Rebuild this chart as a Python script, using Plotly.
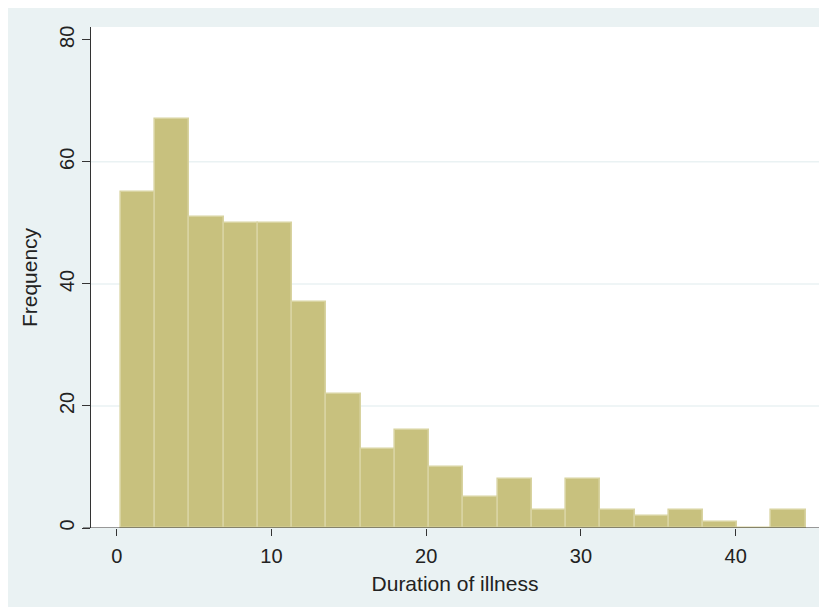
import plotly.graph_objects as go

# ---- data ----
counts = [55, 67, 51, 50, 50, 37, 22, 13, 16, 10, 5, 8, 3, 8, 3, 2, 3, 1, 0, 3]
bin_start = 0.28
bin_width = 2.212
x_ticks = [0, 10, 20, 30, 40]
y_ticks = [0, 20, 40, 60, 80]
grid_vals = [20, 40, 60]
x_title = "Duration of illness"
y_title = "Frequency"

centers = [bin_start + bin_width * (i + 0.5) for i in range(len(counts))]

BG = "#EAF2F3"
FILL = "#C8C17E"
EDGE = "#D8D3A0"
AX = "#333333"
FONT = "Liberation Sans, Arial, sans-serif"

# page body has an 8px margin, which provides the white border at left/top
W, H = 819, 599
ML, MR, MT, MB = 83, 8, 19, 79
PW, PH = W - ML - MR, H - MT - MB

fig = go.Figure()
fig.add_trace(go.Bar(
    x=centers, y=counts, width=bin_width,
    marker=dict(color=FILL, line=dict(color=EDGE, width=1.6)),
    hoverinfo="skip",
))

shapes = []
for g in grid_vals:
    shapes.append(dict(type="line", xref="paper", yref="y", x0=0, x1=1, y0=g, y1=g,
                       line=dict(color=BG, width=1.5), layer="below"))
# x axis line extending slightly left of the y axis
shapes.append(dict(type="line", xref="paper", yref="y", x0=-8 / PW, x1=1, y0=0, y1=0,
                   line=dict(color=AX, width=1.2)))

fig.update_layout(
    width=W, height=H,
    margin=dict(l=ML, r=MR, t=MT, b=MB, autoexpand=False),
    paper_bgcolor=BG, plot_bgcolor="white",
    showlegend=False,
    shapes=shapes,
    font=dict(family=FONT, size=20, color="#222222"),
    bargap=0,
)
fig.update_xaxes(
    range=[-1.66, 45.38], tickvals=x_ticks, ticks="outside", ticklen=7,
    tickcolor=AX, tickwidth=1.2, showgrid=False, zeroline=False, showline=False,
    tickfont=dict(size=20), ticklabelstandoff=3, automargin=False,
    title=dict(text=x_title, font=dict(size=21), standoff=10),
)
fig.update_yaxes(
    range=[0, 82.1], tickvals=y_ticks, ticks="outside", ticklen=8,
    tickcolor=AX, tickwidth=1.2, showgrid=False, zeroline=False,
    showline=True, linecolor=AX, linewidth=1.2, automargin=False,
    tickangle=-90, tickfont=dict(size=20), ticklabelstandoff=0,
    title=dict(text=y_title, font=dict(size=21), standoff=12),
)

fig.write_html("out.html")
